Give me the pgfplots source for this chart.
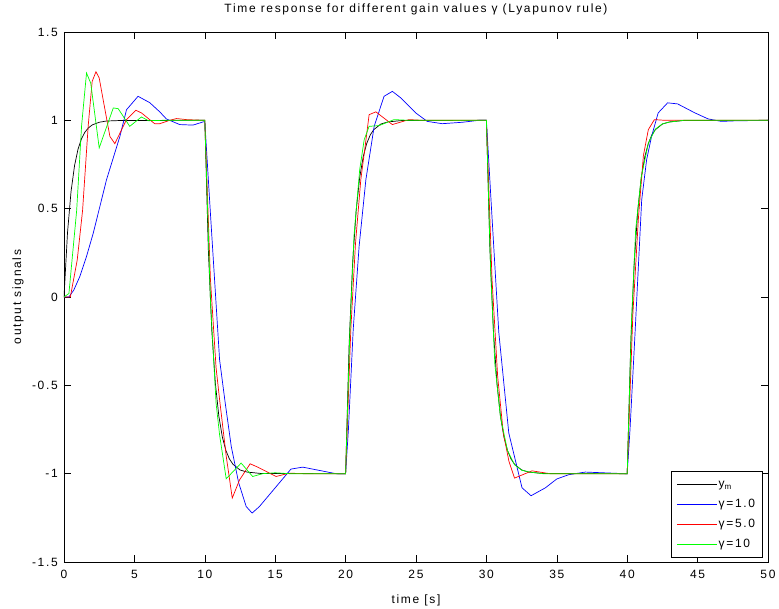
\documentclass[border=0pt]{standalone}
\usepackage{pgfplots}
\pgfplotsset{compat=1.18}
\usepackage{fontspec}
\setmainfont[LetterSpace=14]{Liberation Sans}
\begin{document}
\fontsize{12}{14}\selectfont
\begin{tikzpicture}
\useasboundingbox (-64pt,-46pt) rectangle (715pt,562pt);
\begin{axis}[
  at={(0,0)}, anchor=south west,
  scale only axis, width=704pt, height=530pt,
  xmin=0, xmax=50, ymin=-1.5, ymax=1.5,
  xtick={0,5,10,15,20,25,30,35,40,45,50},
  xticklabels={0,5,10,15,20,25,30,35,40,45,50},
  ytick={-1.5,-1,-0.5,0,0.5,1,1.5},
  yticklabels={-1.5,-1,-0.5,0,0.5,1,1.5},
  tick align=inside, major tick length=7pt,
  tick style={black, line width=0.5pt},
  axis line style={black, line width=0.6pt},
  xticklabel style={yshift=-4pt},
  yticklabel style={xshift=-2pt},
  title={Time response for different gain values γ (Lyapunov rule)},
  title style={at={(axis description cs:0.5,1)}, anchor=base, yshift=13pt},
  xlabel={time [s]},
  xlabel style={at={(axis description cs:0.5,-0.0717)}, anchor=center},
  ylabel={output signals},
  ylabel style={at={(axis description cs:-0.0653,0.5)}, anchor=center},
  legend cell align=left,
  legend image code/.code={\draw[#1,line width=0.8pt] (0pt,0pt) -- (40pt,0pt);},
  legend style={at={(axis description cs:0.992,0.008)}, anchor=south east,
    draw=black, line width=0.6pt, inner sep=6pt, row sep=6pt,
    nodes={inner sep=1pt, text height=9pt, text depth=3pt}},
  every axis plot/.append style={line width=0.7pt},
]
% y_m
\addplot[color=black] coordinates {
(0,0) (0.25,0.365) (0.5,0.597) (0.75,0.744) (1,0.838) (1.25,0.897) (1.5,0.935) (1.75,0.958) (2,0.974) (2.5,0.989) (3,0.996) (4,0.999) (10,1)
(10.25,0.27) (10.5,-0.194) (10.75,-0.488) (11,-0.676) (11.25,-0.794) (11.5,-0.869) (11.75,-0.917) (12,-0.947) (12.5,-0.979) (13,-0.991) (14,-0.999) (20,-1)
(20.25,-0.27) (20.5,0.194) (20.75,0.488) (21,0.676) (21.25,0.794) (21.5,0.869) (21.75,0.917) (22,0.947) (22.5,0.979) (23,0.991) (24,0.999) (30,1)
(30.25,0.27) (30.5,-0.194) (30.75,-0.488) (31,-0.676) (31.25,-0.794) (31.5,-0.869) (31.75,-0.917) (32,-0.947) (32.5,-0.979) (33,-0.991) (34,-0.999) (40,-1)
(40.25,-0.27) (40.5,0.194) (40.75,0.488) (41,0.676) (41.25,0.794) (41.5,0.869) (41.75,0.917) (42,0.947) (42.5,0.979) (43,0.991) (44,0.999) (50,1)
};
\addlegendentry{y\textsubscript{m}}
% gamma = 1.0
\addplot[color=blue] coordinates {
(0,0) (0.35,0) (0.7,0.04) (1.13,0.117) (1.6,0.23) (2.08,0.362) (3.02,0.664) (3.97,0.909) (4.44,1.06) (5.26,1.136) (6.09,1.10) (6.8,1.048) (7.27,1.008) (8.22,0.976) (9.16,0.973) (10,0.994)
(10.34,0.55) (11.05,-0.355) (11.45,-0.6) (11.88,-0.846) (12.4,-1.05) (12.94,-1.186) (13.36,-1.223) (13.88,-1.186) (16.12,-0.974) (16.95,-0.963) (19.31,-1.0) (20,-1.0)
(20.2,-0.75) (20.54,-0.185) (20.96,0.287) (21.44,0.664) (22.03,0.966) (22.73,1.136) (23.32,1.164) (23.92,1.127) (24.98,1.042) (25.8,0.994) (26.86,0.981) (28.28,0.989) (29.46,1.0) (30,1.0)
(30.4,0.45) (30.88,-0.2) (31.59,-0.77) (32.53,-1.08) (33.17,-1.125) (34.19,-1.08) (35.0,-1.03) (35.84,-1.006) (37.02,-0.991) (39.85,-1.0) (40,-1.0)
(40.2,-0.75) (40.56,-0.2) (41.03,0.55) (41.38,0.777) (41.73,0.909) (42.2,1.042) (42.87,1.099) (43.58,1.093) (44.81,1.042) (45.75,1.008) (46.69,0.994) (47.6,0.997) (50,1.0)
};
\addlegendentry{γ=1.0}
% gamma = 5.0
\addplot[color=red] coordinates {
(0,0) (0.45,0) (0.94,0.21) (1.32,0.49) (1.72,0.97) (2.0,1.22) (2.27,1.275) (2.5,1.24) (2.78,1.117) (3.26,0.909) (3.61,0.868) (4.44,1.004) (5.1,1.057) (5.5,1.042) (6.44,0.981) (6.8,0.981) (7.5,1.0) (8.0,1.01) (8.7,1.004) (10,1.0)
(10.4,0.1) (10.8,-0.4) (11.05,-0.58) (11.52,-0.9) (11.95,-1.138) (12.47,-1.035) (13.22,-0.944) (13.76,-0.963) (15.06,-1.016) (16,-0.997) (17,-1.0) (20,-1.0)
(20.37,-0.185) (20.7,0.3) (21.08,0.664) (21.4,0.86) (21.67,1.032) (22.15,1.048) (23.32,0.976) (24.5,1.004) (25.5,1.0) (30,1.0)
(30.4,0.1) (30.8,-0.45) (31.2,-0.77) (31.6,-0.93) (32.0,-1.025) (33.24,-0.984) (34.5,-1.0) (40,-1.0)
(40.4,-0.1) (40.8,0.45) (41.15,0.8) (41.5,0.947) (41.93,1.004) (42.69,1.0) (50,1.0)
};
\addlegendentry{γ=5.0}
% gamma = 10
\addplot[color=green] coordinates {
(0,0) (0.35,0.02) (0.9,0.49) (1.25,0.97) (1.6,1.268) (1.9,1.21) (2.5,0.844) (3.5,1.07) (3.85,1.066) (4.67,0.966) (5.5,1.019) (6.0,0.998) (7,1.0) (8,1.0) (10,1.0)
(10.4,-0.02) (10.8,-0.6) (11.05,-0.78) (11.52,-1.029) (12.58,-0.94) (13.4,-1.016) (14.11,-1.0) (15,-0.995) (16,-1.0) (20,-1.0)
(20.3,-0.2) (20.6,0.35) (21.0,0.72) (21.32,0.89) (21.67,0.966) (22.38,0.97) (23.44,1.004) (24.5,1.0) (30,1.0)
(30.3,0.15) (30.6,-0.38) (31.0,-0.68) (31.5,-0.87) (32,-0.95) (32.5,-0.98) (33,-0.99) (34,-1.0) (40,-1.0)
(40.3,-0.15) (40.6,0.38) (41.0,0.68) (41.5,0.87) (42,0.95) (42.5,0.98) (43,0.99) (44,1.0) (50,1.0)
};
\addlegendentry{γ=10}
\end{axis}
\end{tikzpicture}
\end{document}
